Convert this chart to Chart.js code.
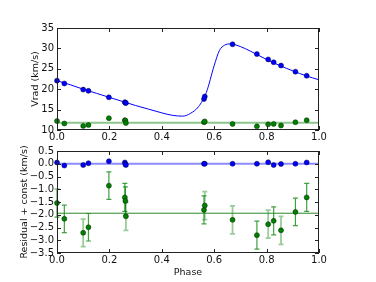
<!DOCTYPE html>
<html>
<head>
<meta charset="utf-8">
<script src="https://cdn.jsdelivr.net/npm/chart.js@4.4.0/dist/chart.umd.min.js"></script>
<style>
body { margin: 0; background: #fff; }
.panel { position: absolute; left: 0; }
#top { top: 0; }
#bot { top: 141px; }
</style>
</head>
<body>
<div class="panel" id="top"><canvas id="chart1" width="376" height="142"></canvas></div>
<div class="panel" id="bot"><canvas id="chart2" width="376" height="141"></canvas></div>
<script>
// observed phases
const phase = [0.0, 0.028, 0.100, 0.120, 0.198, 0.259, 0.261, 0.263, 0.561, 0.564, 0.670, 0.763, 0.806, 0.827, 0.855, 0.910, 0.953];
// radial velocities (km/s)
const blueRV = [22.1, 21.4, 19.9, 19.6, 18.0, 16.8, 16.7, 16.6, 17.6, 18.2, 31.0, 28.6, 27.3, 26.6, 25.8, 24.3, 23.3];
const greenRV = [12.2, 11.6, 11.0, 11.2, 12.9, 12.4, 12.3, 11.7, 11.9, 12.1, 11.5, 10.9, 11.4, 11.5, 11.1, 11.9, 12.4];
// residuals (+ const for green)
const blueRes = [0.05, -0.07, -0.05, 0.02, 0.10, 0.05, -0.02, -0.05, 0.0, 0.0, 0.0, 0.0, 0.06, -0.05, -0.01, 0.0, 0.05];
const greenRes = [-1.54, -2.16, -2.71, -2.49, -0.86, -1.32, -1.46, -2.06, -1.81, -1.64, -2.20, -2.80, -2.37, -2.24, -2.61, -1.89, -1.32];
const greenErr = [0.55, 0.54, 0.54, 0.54, 0.54, 0.55, 0.55, 0.55, 0.55, 0.55, 0.55, 0.55, 0.55, 0.55, 0.55, 0.54, 0.55];
const greenErrLight = [0, 0, 1, 0, 0, 0, 0, 1, 0, 1, 1, 0, 1, 0, 1, 0, 0];

// orbit model curve
const curvePhase = [0, 0.05, 0.1, 0.15, 0.2, 0.25, 0.3, 0.35, 0.4, 0.44, 0.48, 0.51, 0.54, 0.57, 0.60, 0.62, 0.64, 0.66, 0.68, 0.72, 0.76, 0.8, 0.85, 0.9, 0.95, 1.0];
const curveRV = [22.1, 21.1, 20.0, 19.0, 18.0, 17.0, 16.0, 15.1, 14.2, 13.6, 13.4, 14.1, 15.7, 19.2, 25.8, 29.5, 30.8, 31.1, 30.9, 29.9, 28.6, 27.3, 25.8, 24.5, 23.3, 22.3];
const greenLevel = 11.8;
const greenResLevel = -1.94;

const topTicks = [10, 15, 20, 25, 30, 35];
const botTicks = [-3.5, -3.0, -2.5, -2.0, -1.5, -1.0, -0.5, 0.0, 0.5];

Chart.defaults.font.family = 'DejaVu Sans';
Chart.defaults.color = '#111';

const pts = (xs, ys) => xs.map((x, i) => ({x: x, y: ys[i]}));
const fmt = v => v.toFixed(1).replace('-', '\u2212');

// matplotlib style frame with inward ticks
const frameTicks = {
    id: 'frameTicks',
    afterDraw(chart) {
        const {ctx, chartArea: a, scales} = chart;
        ctx.save();
        ctx.strokeStyle = '#222';
        ctx.lineWidth = 1;
        ctx.beginPath();
        scales.x.ticks.forEach(t => {
            const px = Math.round(scales.x.getPixelForValue(t.value)) + 0.5;
            ctx.moveTo(px, a.bottom); ctx.lineTo(px, a.bottom - 4);
            ctx.moveTo(px, a.top); ctx.lineTo(px, a.top + 4);
        });
        scales.y.ticks.forEach(t => {
            const py = Math.round(scales.y.getPixelForValue(t.value)) + 0.5;
            ctx.moveTo(a.left, py); ctx.lineTo(a.left + 4, py);
            ctx.moveTo(a.right, py); ctx.lineTo(a.right - 4, py);
        });
        ctx.stroke();
        ctx.strokeRect(a.left + 0.5, a.top + 0.5, a.right - a.left - 1, a.bottom - a.top - 1);
        ctx.restore();
    }
};

const errorBars = {
    id: 'errorBars',
    beforeDatasetsDraw(chart) {
        if (chart.canvas.id !== 'chart2') return;
        const {ctx, scales} = chart;
        ctx.save();
        phase.forEach((p, i) => {
            const x = scales.x.getPixelForValue(p);
            const y1 = scales.y.getPixelForValue(greenRes[i] + greenErr[i]);
            const y2 = scales.y.getPixelForValue(greenRes[i] - greenErr[i]);
            ctx.strokeStyle = greenErrLight[i] ? 'rgba(0,128,0,0.4)' : 'rgba(0,128,0,0.75)';
            ctx.lineWidth = greenErrLight[i] ? 1.8 : 1.2;
            ctx.beginPath();
            ctx.moveTo(x, y1); ctx.lineTo(x, y2);
            ctx.moveTo(x - 2.5, y1); ctx.lineTo(x + 2.5, y1);
            ctx.moveTo(x - 2.5, y2); ctx.lineTo(x + 2.5, y2);
            ctx.stroke();
        });
        ctx.restore();
    }
};

function xScale(withTitle) {
    return {
        type: 'linear', min: 0, max: 1,
        grid: {display: false, drawTicks: false},
        border: {display: false},
        ticks: {stepSize: 0.2, padding: 1, maxRotation: 0, autoSkip: false, font: {size: 10}, callback: v => v.toFixed(1)},
        title: {display: withTitle, text: 'Phase', font: {size: 9.5}, padding: {top: 0, bottom: 4}},
        afterFit(s) { s.height = withTitle ? 29 : 12; }
    };
}

const blueDot = {pointRadius: 2.5, pointBackgroundColor: '#0000ff', pointBorderColor: '#000040', pointBorderWidth: 0.5, showLine: false, clip: false};
const greenDot = {pointRadius: 2.5, pointBackgroundColor: '#008000', pointBorderColor: '#002800', pointBorderWidth: 0.5, showLine: false, clip: false};

new Chart(document.getElementById('chart1'), {
    type: 'scatter',
    data: {
        datasets: [
            Object.assign({data: pts(phase, blueRV)}, blueDot),
            Object.assign({data: pts(phase, greenRV)}, greenDot),
            {data: pts(curvePhase, curveRV), showLine: true, pointRadius: 0, borderColor: '#0000ff', borderWidth: 1, cubicInterpolationMode: 'monotone'},
            {data: [{x: 0, y: greenLevel}, {x: 1, y: greenLevel}], showLine: true, pointRadius: 0, borderColor: 'rgba(0,128,0,0.45)', borderWidth: 2}
        ]
    },
    options: {
        responsive: false, animation: false, devicePixelRatio: 1,
        layout: {padding: {top: 28, right: 57, left: 0, bottom: 0}},
        plugins: {legend: {display: false}, tooltip: {enabled: false}},
        scales: {
            x: xScale(false),
            y: {
                type: 'linear', min: 10, max: 35,
                grid: {display: false, drawTicks: false},
                border: {display: false},
                ticks: {stepSize: 5, padding: 3, autoSkip: false, font: {size: 10}, callback: v => topTicks.includes(v) ? String(v) : ''},
                title: {display: true, text: 'Vrad (km/s)', font: {size: 9.5}, padding: {top: 30, bottom: 0}},
                afterFit(s) { s.width = 57; }
            }
        }
    },
    plugins: [frameTicks]
});

new Chart(document.getElementById('chart2'), {
    type: 'scatter',
    data: {
        datasets: [
            Object.assign({data: pts(phase, blueRes)}, blueDot),
            Object.assign({data: pts(phase, greenRes)}, greenDot),
            {data: [{x: 0, y: 0}, {x: 1, y: 0}], showLine: true, pointRadius: 0, borderColor: 'rgba(0,0,255,0.45)', borderWidth: 2},
            {data: [{x: 0, y: greenResLevel}, {x: 1, y: greenResLevel}], showLine: true, pointRadius: 0, borderColor: '#2a8a2a', borderWidth: 1}
        ]
    },
    options: {
        responsive: false, animation: false, devicePixelRatio: 1,
        layout: {padding: {top: 10, right: 57, left: 0, bottom: 0}},
        plugins: {legend: {display: false}, tooltip: {enabled: false}},
        scales: {
            x: xScale(true),
            y: {
                type: 'linear', min: -3.5, max: 0.5,
                grid: {display: false, drawTicks: false},
                border: {display: false},
                ticks: {stepSize: 0.5, padding: 3, autoSkip: false, font: {size: 10}, callback: v => botTicks.some(b => Math.abs(b - v) < 1e-6) ? fmt(v) : ''},
                title: {display: true, text: 'Residual + const (km/s)', font: {size: 9.5}, padding: {top: 19, bottom: 0}},
                afterFit(s) { s.width = 57; }
            }
        }
    },
    plugins: [frameTicks, errorBars]
});
</script>
</body>
</html>
